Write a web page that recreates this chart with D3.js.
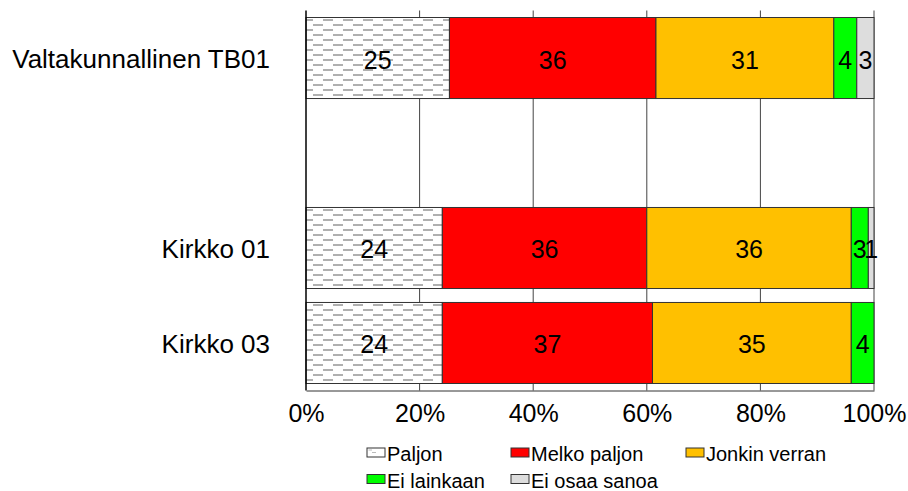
<!DOCTYPE html>
<html>
<head>
<meta charset="utf-8">
<script src="https://cdn.jsdelivr.net/npm/d3@7"></script>
<style>
  html, body { margin: 0; padding: 0; background: #fff; }
  svg { display: block; font-family: "Liberation Sans", Arial, sans-serif; }
</style>
</head>
<body>
<svg id="chart" width="908" height="491"></svg>
<script>
// Response categories (stack order, left to right)
const categories = ["Paljon", "Melko paljon", "Jonkin verran", "Ei lainkaan", "Ei osaa sanoa"];
// Rows; the empty string is a spacer row with no bars
const groups = ["Valtakunnallinen TB01", "", "Kirkko 01", "Kirkko 03"];
// Percent values per row, in category order
const valtakunnallinen = [25, 36, 31, 4, 3];
const kirkko01 = [24, 36, 36, 3, 1];
const kirkko03 = [24, 37, 35, 4, 0];
const tickLabels = ["0%", "20%", "40%", "60%", "80%", "100%"];

const colors = ["url(#wave)", "#ff0000", "#ffc000", "#00ff00", "#dddddd"];

const rows = [
  { group: groups[0], values: valtakunnallinen },
  { group: groups[2], values: kirkko01 },
  { group: groups[3], values: kirkko03 }
];

const svg = d3.select("#chart");
const margin = { left: 306, right: 34, top: 10.5, bottom: 100.5 };
const W = 908, H = 491;

const x = d3.scaleLinear().domain([0, 1]).range([margin.left, W - margin.right]);
const y = d3.scaleBand().domain(groups).range([margin.top, H - margin.bottom])
  .paddingInner(0.147).paddingOuter(0.0737);

// Stepped dash hatch used for "Paljon"
const defs = svg.append("defs");
const pat = defs.append("pattern").attr("id", "wave")
  .attr("patternUnits", "userSpaceOnUse")
  .attr("x", 313).attr("y", 24)
  .attr("width", 20).attr("height", 10);
pat.append("rect").attr("width", 20).attr("height", 10).attr("fill", "#fff");
pat.append("rect").attr("x", 0).attr("y", 0).attr("width", 10).attr("height", 2).attr("fill", "#b0b0b0");
pat.append("rect").attr("x", 10).attr("y", 5).attr("width", 10).attr("height", 2).attr("fill", "#b0b0b0");

// Gridlines
const gridTicks = d3.range(0, 1.0001, 0.2);
svg.append("g").selectAll("line").data(gridTicks.slice(1)).join("line")
  .attr("x1", d => x(d)).attr("x2", d => x(d))
  .attr("y1", margin.top).attr("y2", H - margin.bottom)
  .attr("stroke", "#444").attr("stroke-width", 1);

// Stacked, normalised bars
const stackRows = rows.map(r => {
  const total = d3.sum(r.values);
  let acc = 0;
  return r.values.map((v, i) => {
    const s = { group: r.group, cat: i, value: v, x0: acc / total, x1: (acc + v) / total };
    acc += v;
    return s;
  });
}).flat();

const bars = svg.append("g");
bars.selectAll("rect").data(stackRows.filter(d => d.value > 0)).join("rect")
  .attr("x", d => x(d.x0))
  .attr("y", d => y(d.group))
  .attr("width", d => x(d.x1) - x(d.x0))
  .attr("height", y.bandwidth())
  .attr("fill", d => colors[d.cat])
  .attr("stroke", "#333").attr("stroke-width", 1);

bars.selectAll("text").data(stackRows.filter(d => d.value > 0)).join("text")
  .attr("x", d => (x(d.x0) + x(d.x1)) / 2)
  .attr("y", d => y(d.group) + y.bandwidth() / 2)
  .attr("dy", "0.42em")
  .attr("text-anchor", "middle")
  .attr("font-size", 25)
  .attr("fill", "#000")
  .text(d => d.value);

// Left axis line and bottom axis
svg.append("line").attr("x1", x(0)).attr("x2", x(0))
  .attr("y1", margin.top).attr("y2", H - margin.bottom)
  .attr("stroke", "#000").attr("stroke-width", 1.5);

const xAxis = d3.axisBottom(x).tickValues(gridTicks)
  .tickFormat((d, i) => tickLabels[i]).tickSize(0).tickPadding(14);
const gx = svg.append("g").attr("transform", `translate(0,${H - margin.bottom})`).call(xAxis);
gx.select(".domain").attr("stroke", "#333");
gx.selectAll("text").attr("font-size", 25).attr("fill", "#000")
  .attr("font-family", "'Liberation Sans', Arial, sans-serif");

// Row labels
svg.append("g").selectAll("text").data(groups.filter(g => g !== "")).join("text")
  .attr("x", 270)
  .attr("y", d => y(d) + y.bandwidth() / 2)
  .attr("dy", "0.38em")
  .attr("text-anchor", "end")
  .attr("font-size", 26)
  .attr("fill", "#000")
  .text(d => d);

// Legend
const legendPos = [
  { x: 367, y: 448 }, { x: 511, y: 448 }, { x: 686, y: 448 },
  { x: 367, y: 474.5 }, { x: 511, y: 474.5 }
];
const lg = svg.append("g").selectAll("g").data(categories).join("g")
  .attr("transform", (d, i) => `translate(${legendPos[i].x},${legendPos[i].y})`);
lg.append("rect").attr("width", 18).attr("height", 9)
  .attr("fill", (d, i) => i === 0 ? "#fff" : colors[i])
  .attr("stroke", "#333").attr("stroke-width", 1);
lg.filter((d, i) => i === 0).append("path").attr("d", "M1.5,2 H5 M5,4.5 H9")
  .attr("fill", "none").attr("stroke", "#bbb").attr("stroke-width", 1.2);
lg.append("text").attr("x", 20).attr("y", 13)
  .attr("font-size", 20).attr("fill", "#000").text(d => d);
</script>
</body>
</html>
